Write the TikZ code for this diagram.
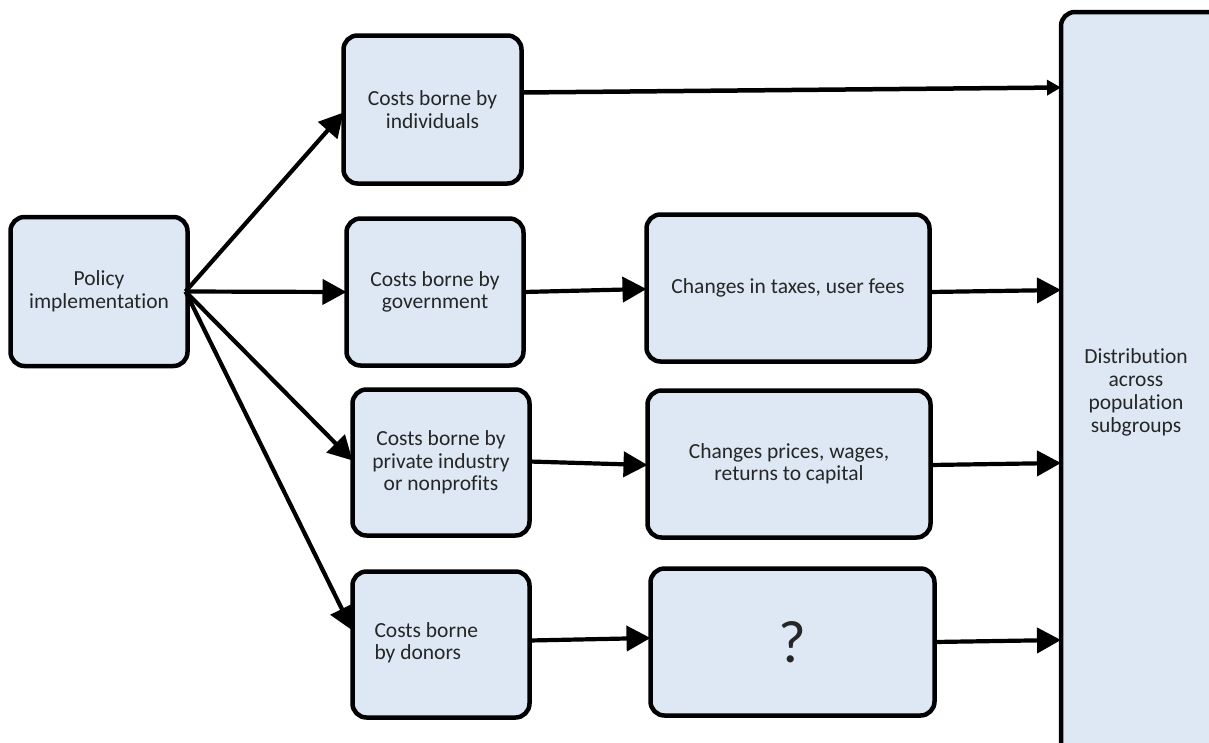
\documentclass[tikz,border=0pt]{standalone}
\usepackage{fontspec}
\setmainfont[RawFeature={-liga;-dlig;-calt;-clig;-rlig}]{Carlito}
\usetikzlibrary{arrows.meta,calc}
\definecolor{boxfill}{HTML}{DDE8F4}
\definecolor{txt}{HTML}{262626}
\begin{document}
\begin{tikzpicture}[x=1pt,y=-1pt,
  box/.style={draw=black,line width=4.5pt,fill=boxfill,rounded corners=14pt,
    inner sep=0pt,outer sep=0pt,align=center,text=txt,font=\fontsize{21.5}{22.5}\selectfont},
  arr/.style={line width=4.2pt,-{Triangle[length=24pt,width=25pt]}},
  arrs/.style={line width=4.5pt,-{Triangle[length=14pt,width=15pt]}}]
\useasboundingbox (0,0) rectangle (1209,742);
\clip (0,0) rectangle (1209,742);
\fill[white] (0,0) rectangle (1209,742);
\node[box,minimum width=177pt,minimum height=149pt] (pol) at (99,291.5) {Policy\\implementation};
\node[box,minimum width=178pt,minimum height=148pt] (ind) at (432.5,109.5) {Costs borne by\\individuals};
\node[box,minimum width=177pt,minimum height=147pt] (gov) at (435,292) {Costs borne by\\government};
\node[box,minimum width=177pt,minimum height=146pt] (pri) at (441,462.5) {Costs borne by\\private industry\\or nonprofits};
\node[box,minimum width=177pt,minimum height=146pt] (don) at (441,644.5) {};
\node[align=left,anchor=west,text=txt,font=\fontsize{21.5}{22.5}\selectfont] (dontext) at (371,643) {Costs borne\\by donors};
\node[box,minimum width=283pt,minimum height=147pt] (tax) at (788,288) {Changes in taxes, user fees};
\node[box,minimum width=283pt,minimum height=147pt] (pr2) at (789,464) {Changes prices, wages,\\returns to capital};
\node[box,minimum width=284pt,minimum height=147pt,font=\fontsize{60}{60}\selectfont] (q) at (792.5,642) {?};
\node[box,minimum width=180pt,minimum height=768pt] (dist) at (1151,396) {};
\node[align=center,text=txt,font=\fontsize{21.5}{23}\selectfont] (disttext) at (1136,392) {Distribution\\across\\population\\subgroups};
% arrows from policy
\draw[arr] ($(pol.east)+(-2,0)$) -- ($(ind.west)+(0,3)$);
\draw[arr] ($(pol.east)+(-2,0)$) -- (gov.west);
\draw[arr] ($(pol.east)+(-2,0)$) -- ($(pri.west)+(0,-2)$);
\draw[arr] ($(pol.east)+(-2,0)$) -- ($(don.west)+(0,-14)$);
% middle arrows
\draw[arrs] ($(ind.east)+(0,-17)$) -- ($(dist.west |- ind.east)+(0,-22)$);
\draw[arr] (gov.east) -- ($(tax.west)+(0,1)$);
\draw[arr] ($(pri.east)+(0,-1)$) -- ($(pr2.west)+(0,1)$);
\draw[arr] ($(don.east)+(0,-4)$) -- ($(q.west)+(0,-4)$);
% to distribution
\draw[arr] ($(tax.east)+(0,4)$) -- ($(dist.west |- tax.east)+(0,2)$);
\draw[arr] ($(pr2.east)+(0,1)$) -- ($(dist.west |- pr2.east)+(0,-1)$);
\draw[arr] (q.east) -- ($(dist.west |- q.east)+(0,-2)$);
\end{tikzpicture}
\end{document}
